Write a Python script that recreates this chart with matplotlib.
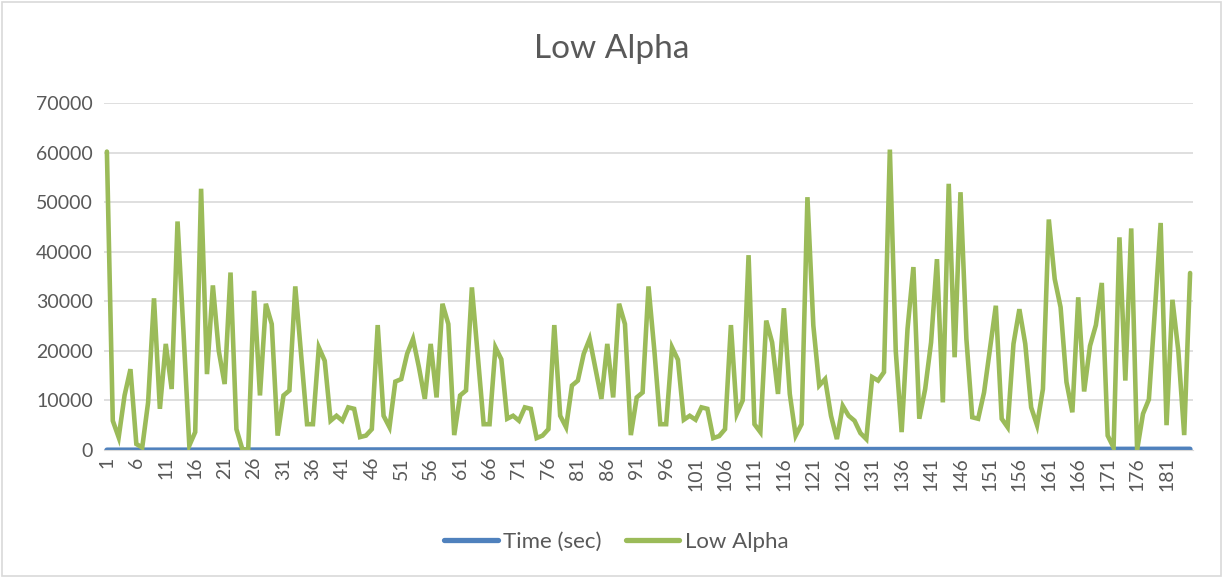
import matplotlib.pyplot as plt
from matplotlib.patches import Rectangle

plt.rcParams['font.family'] = ['Lato', 'DejaVu Sans']

# Low Alpha band power, one sample per second
low_alpha = [
    60200, 5900, 2550, 11000, 16300, 1200, 500, 9600, 30600, 8300,
    21400, 12300, 46100, 24000, 900, 3600, 52700, 15300, 33200, 20000,
    13300, 35800, 4200, 200, 0, 32100, 11000, 29500, 25400, 2900,
    11000, 12000, 33000, 19000, 5200, 5200, 20700, 18000, 5900, 6900,
    5900, 8600, 8300, 2600, 2900, 4200, 25200, 6900, 4600, 13800,
    14300, 19400, 22400, 16700, 10300, 21400, 10600, 29500, 25400, 3000,
    11000, 12000, 32800, 19000, 5200, 5200, 20700, 18300, 6300, 6900,
    5900, 8600, 8300, 2400, 2900, 4200, 25200, 6900, 4600, 13000,
    14000, 19400, 22400, 16300, 10300, 21400, 10600, 29500, 25400, 3000,
    10600, 11600, 33000, 20000, 5200, 5200, 20700, 18200, 6100, 6900,
    6100, 8600, 8300, 2400, 2800, 4200, 25200, 7300, 10000, 39300,
    5200, 3600, 26100, 21700, 11300, 28600, 11300, 2900, 5200, 51000,
    25100, 13000, 14300, 6900, 2200, 8900, 6900, 5900, 3400, 2200,
    14700, 14000, 15700, 60600, 20000, 3600, 24400, 36900, 6300, 12300,
    21700, 38500, 9600, 53700, 18700, 52000, 22400, 6600, 6300, 11600,
    20400, 29100, 6300, 4600, 21400, 28400, 21400, 8600, 5000, 12300,
    46500, 34500, 28800, 13700, 7600, 30800, 11800, 21000, 25200, 33700,
    2900, 500, 42900, 14000, 44700, 0, 7300, 10200, 27800, 45800,
    5000, 30300, 20000, 3000, 35700,
]
time_sec = list(range(1, len(low_alpha) + 1))
samples = list(range(1, len(low_alpha) + 1))
tick_labels = [str(t) for t in range(1, len(low_alpha) + 1, 5)]

text_color = '#595959'
grid_color = '#D9D9D9'

fig = plt.figure(figsize=(12.23, 5.78), dpi=100)
ax = fig.add_axes([0.085, 0.2215, 0.8905, 0.6003])

ax.plot(samples, time_sec, color='#4F81BD', lw=3.6, solid_capstyle='round',
        label='Time (sec)')
ax.plot(samples, low_alpha, color='#9BBB59', lw=3.3, solid_capstyle='round',
        solid_joinstyle='miter', label='Low Alpha')

ax.set_xlim(0.5, len(low_alpha) + 0.5)
ax.set_ylim(0, 70000)
ax.set_yticks(range(0, 70001, 10000))
ax.set_xticks(range(1, len(low_alpha) + 1, 5))
ax.set_xticklabels(tick_labels, rotation=90)
ax.tick_params(axis='both', length=0, labelsize=14, colors=text_color)
ax.tick_params(axis='y', pad=8)
ax.tick_params(axis='x', pad=5)
ax.grid(axis='y', color=grid_color, lw=1.2)
ax.set_axisbelow(True)
for side in ['top', 'right', 'left']:
    ax.spines[side].set_visible(False)
ax.spines['bottom'].set_color(grid_color)

fig.text(0.5, 0.915, 'Low Alpha', ha='center', va='center',
         fontsize=24, color=text_color)

leg = fig.legend(loc='center', bbox_to_anchor=(0.504, 0.062), ncol=2, frameon=False,
                 fontsize=16, labelcolor=text_color, handlelength=2.4,
                 handletextpad=0.25, columnspacing=1.1)
for line in leg.get_lines():
    line.set_linewidth(3.8)
    line.set_solid_capstyle('round')

# thin frame around the whole chart
fig.patches.append(Rectangle((0.002, 0.004), 0.996, 0.992, transform=fig.transFigure,
                             fill=False, edgecolor=grid_color, lw=1.2))

fig.savefig('out.png', dpi=100)
